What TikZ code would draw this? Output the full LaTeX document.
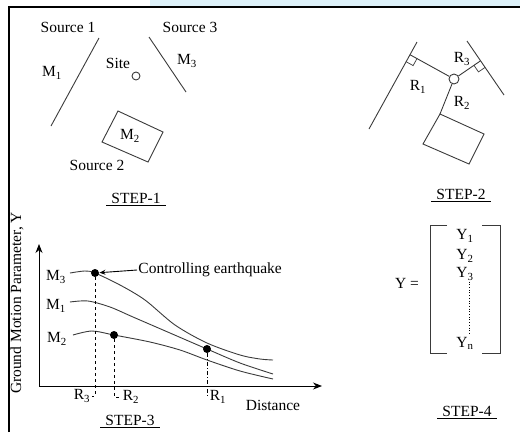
\documentclass[tikz,border=0pt]{standalone}
\usepackage{fontspec}
\setmainfont{Liberation Serif}
\usetikzlibrary{positioning, arrows.meta, calc}
\definecolor{lnGray}{HTML}{3A3A3A}
\definecolor{topBlue}{HTML}{DDF1F9}

\begin{document}
\begin{tikzpicture}[x=1pt, y=-1pt, line width=0.9pt,
    lbl/.style={font=\fontsize{15.5}{17}\selectfont, inner sep=1pt},
    steplbl/.style={lbl, inner xsep=5pt, inner ysep=2pt},
    site/.style={draw=lnGray, circle, inner sep=0pt, minimum size=8pt},
    fault/.style={draw=lnGray},
    quake/.style={circle, fill=black, inner sep=0pt, minimum size=8pt}]
  \useasboundingbox (0,0) rectangle (520,432);
  % frame
  \fill[topBlue] (150,0) rectangle (520,6);
  \draw[line width=2.4pt] (9,432) -- (9,7) -- (520,7);

  % STEP-1
  \node[lbl] (src1) at (68,27) {Source 1};
  \node[lbl] (src3) at (190,27) {Source 3};
  \node[lbl] (src2) at (97,165) {Source 2};
  \draw[fault] (99,38) -- (51,126);
  \draw[fault] (149,37) -- (186,92);
  \draw[fault] (118,111) -- (163,132) -- (148,162) -- (102,142) -- cycle;
  \node[lbl] (m1) at (52,73) {M\textsubscript{1}};
  \node[lbl] (m3) at (187,61) {M\textsubscript{3}};
  \node[lbl] (m2) at (130,136) {M\textsubscript{2}};
  \node[lbl] (sitetxt) at (118,63) {Site};
  \node[site] (site1) at (136,76) {};
  \node[steplbl] (step1) at (136,198) {STEP-1};
  \draw (step1.south west) -- (step1.south east);

  % STEP-2
  \coordinate (l2a) at (417,42);
  \coordinate (l2b) at (369,129);
  \coordinate (r2a) at (467,41);
  \coordinate (r2b) at (504,95);
  \draw[fault] (l2a) -- (l2b);
  \draw[fault] (r2a) -- (r2b);
  \node[site, minimum size=10pt] (site2) at (454,79) {};
  \coordinate (f1) at ($(l2a)!(site2)!(l2b)$);
  \coordinate (f3) at ($(r2a)!(site2)!(r2b)$);
  \coordinate (b2) at (440,114);
  \draw[fault] (b2) -- (484,134) -- (469,164) -- (423,144) -- cycle;
  \draw[fault] (site2) -- (f1);
  \draw[fault] (site2) -- (f3);
  \draw[fault] (site2) -- (b2);
  \coordinate (q1a) at ($(f1)!8pt!(site2)$);
  \coordinate (q1b) at ($(f1)!8pt!(l2b)$);
  \draw[fault, line width=0.7pt] (q1a) -- ($(q1a)+(q1b)-(f1)$) -- (q1b);
  \coordinate (q3a) at ($(f3)!8pt!(site2)$);
  \coordinate (q3b) at ($(f3)!8pt!(r2b)$);
  \draw[fault, line width=0.7pt] (q3a) -- ($(q3a)+(q3b)-(f3)$) -- (q3b);
  \node[lbl] (rr1) at (418,87) {R\textsubscript{1}};
  \node[lbl] (rr3) at (462,59) {R\textsubscript{3}};
  \node[lbl] (rr2) at (462,103) {R\textsubscript{2}};
  \node[steplbl] (step2) at (461,194) {STEP-2};
  \draw (step2.south west) -- (step2.south east);

  % STEP-3
  \coordinate (orig) at (39,386);
  \coordinate (ytop) at (39,244);
  \coordinate (xend) at (322,386);
  \draw[-{Stealth[length=9pt, width=7pt]}] (orig) -- (ytop);
  \draw[-{Stealth[length=9pt, width=7pt]}] (orig) -- (xend);
  \node[lbl, rotate=90] (ylab) at (17,303) {Ground Motion Parameter, Y};
  \draw[lnGray] plot[smooth] coordinates {(70,273) (85,271) (95,273) (120,285) (145,300) (175,325) (207,343) (240,355) (260,359) (273,360)};
  \draw[lnGray] plot[smooth] coordinates {(70,302) (88,301) (110,307) (133,317) (170,333) (207,349) (240,363) (273,374)};
  \draw[lnGray] plot[smooth] coordinates {(73,335) (92,331) (114,335) (150,342) (180,350) (207,360) (240,371) (273,379)};
  \node[lbl] (cm3) at (56,277) {M\textsubscript{3}};
  \node[lbl] (cm1) at (56,306) {M\textsubscript{1}};
  \node[lbl] (cm2) at (57,339) {M\textsubscript{2}};
  \node[quake] (eq3) at (95,273) {};
  \node[quake] (eq2) at (114,335) {};
  \node[quake] (eq1) at (207,349) {};
  \node[lbl] (dr3) at (82,396) {R\textsubscript{3}};
  \node[lbl] (dr2) at (131,397) {R\textsubscript{2}};
  \node[lbl] (dr1) at (218,397) {R\textsubscript{1}};
  \draw[dashed, line width=0.7pt] (eq3) |- (dr3.east);
  \draw[dashed, line width=0.7pt] (eq2) |- (dr2.west);
  \draw[dash pattern=on 4pt off 2pt on 1pt off 2pt, line width=0.7pt] (eq1) |- (dr1.west);
  \node[lbl, anchor=west] (ctrl) at (137,270) {Controlling earthquake};
  \draw[-{Stealth[length=6pt, width=5pt]}] (ctrl.west) -- (eq3);
  \node[lbl] (dist) at (273,405) {Distance};
  \node[steplbl] (step3) at (130,420) {STEP-3};
  \draw (step3.south west) -- (step3.south east);

  % STEP-4
  \node[lbl] (yeq) at (407,283) {Y =};
  \draw[lnGray] (447,225) -- (430,225) -- (430,353) -- (447,353);
  \draw[lnGray] (482,225) -- (500,225) -- (500,353) -- (482,353);
  \node[lbl] (y1) at (465,236) {Y\textsubscript{1}};
  \node[lbl] (y2) at (465,256) {Y\textsubscript{2}};
  \node[lbl] (y3) at (465,274) {Y\textsubscript{3}};
  \node[lbl] (yn) at (465,343) {Y\textsubscript{n}};
  \draw[dotted, line width=0.7pt] ([xshift=4pt]y3.south) -- ([xshift=4pt]yn.north);
  \node[steplbl] (step4) at (467,411) {STEP-4};
  \draw (step4.south west) -- (step4.south east);
\end{tikzpicture}
\end{document}
